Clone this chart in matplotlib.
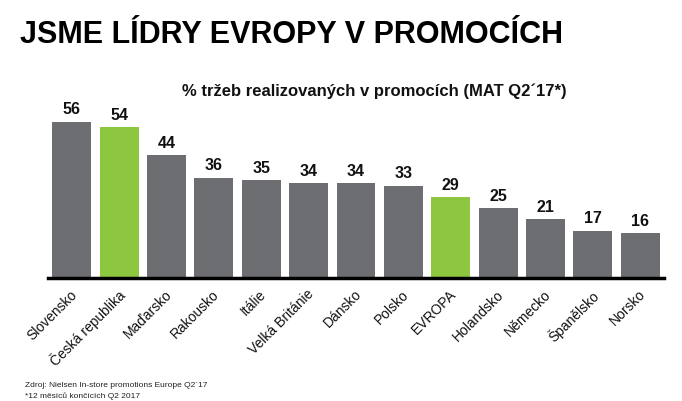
import matplotlib
matplotlib.use("Agg")
import matplotlib.pyplot as plt
import matplotlib.transforms as mtransforms
from matplotlib import font_manager

categories = ["Slovensko", "Česká republika", "Maďarsko", "Rakousko", "Itálie",
              "Velká Británie", "Dánsko", "Polsko", "EVROPA", "Holandsko",
              "Německo", "Španělsko", "Norsko"]
values = [56, 54, 44, 36, 35, 34, 34, 33, 29, 25, 21, 17, 16]
highlight = ["Česká republika", "EVROPA"]

title = "JSME LÍDRY EVROPY V PROMOCÍCH"
subtitle = "% tržeb realizovaných v promocích (MAT Q2´17*)"
notes = ["Zdroj: Nielsen In-store promotions Europe Q2´17", "*12 měsíců končících Q2 2017"]

names = {f.name for f in font_manager.fontManager.ttflist}
narrow = "Liberation Sans Narrow" if "Liberation Sans Narrow" in names else "Liberation Sans"

GRAY = "#6d6e71"
GREEN = "#8dc63f"

fig = plt.figure(figsize=(6.82, 4.02), dpi=100)
ax = fig.add_axes([48/682, 1-279/402, 616/682, 0.4164])

colors = [GREEN if c in highlight else GRAY for c in categories]
x = list(range(len(categories)))
ax.bar(x, values, width=0.82, color=colors, zorder=2)
ax.set_xlim(-0.5, 12.5)
ax.set_ylim(0, 60)

for xi, v in zip(x, values):
    ax.annotate(str(v), (xi, v), xytext=(0, 4), textcoords="offset points",
                ha="center", va="bottom", fontsize=11.5, fontweight="bold",
                family=[narrow, "DejaVu Sans"], color="#111111")

for s in ["top", "right", "left"]:
    ax.spines[s].set_visible(False)
ax.spines["bottom"].set_linewidth(2.5)
ax.spines["bottom"].set_color("#000000")
ax.set_yticks([])
ax.set_xticks(x)
ax.set_xticklabels(categories, rotation=45, ha="right", rotation_mode="anchor",
                   fontsize=10, family=["Liberation Sans", "DejaVu Sans"], color="#111111")
ax.tick_params(axis="x", length=0, pad=6)
offset = mtransforms.ScaledTranslation(-2/100, 0, fig.dpi_scale_trans)
for lab in ax.get_xticklabels():
    lab.set_transform(lab.get_transform() + offset)

fig.text(20/682, 1-35/402, title, fontsize=22, fontweight="bold",
         family=[narrow, "DejaVu Sans"], ha="left", va="center", color="#000000")
fig.text(374/682, 1-91/402, subtitle, fontsize=12, fontweight="bold",
         family=[narrow, "DejaVu Sans"], ha="center", va="center", color="#111111")
fig.text(25/682, 1-386/402, notes[0], fontsize=6, family=["Liberation Sans", "DejaVu Sans"],
         ha="left", va="center", color="#222222")
fig.text(25/682, 1-396/402, notes[1], fontsize=6, family=["Liberation Sans", "DejaVu Sans"],
         ha="left", va="center", color="#222222")

fig.savefig("out.png", dpi=100)
